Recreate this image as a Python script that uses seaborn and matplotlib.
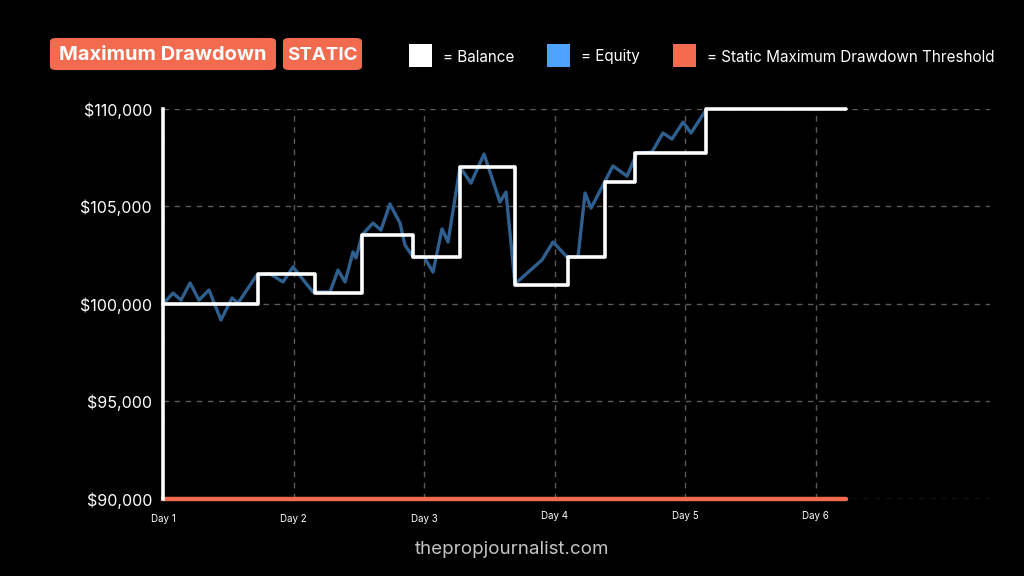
import matplotlib
matplotlib.use("Agg")
import matplotlib.pyplot as plt
from matplotlib.patches import Rectangle, FancyBboxPatch
from matplotlib.transforms import ScaledTranslation
import seaborn as sns
import pandas as pd

# ---- data (x in days since Day 1, values in USD) ----
balance_days = [0, 0.73, 1.165, 1.525, 1.916, 2.276, 2.70, 3.10, 3.39, 3.62, 4.16, 5.23]
balance_vals = [100000, 101550, 100560, 103540, 102410, 107025, 100970, 102410, 106260, 107740, 110000, 110000]

equity_days = [0, 0.077, 0.138, 0.207, 0.276, 0.352, 0.444, 0.529, 0.575, 0.72, 0.82, 0.92,
               0.996, 1.149, 1.28, 1.341, 1.395, 1.456, 1.479, 1.525, 1.609, 1.670, 1.739,
               1.816, 1.854, 1.916, 2.0, 2.069, 2.138, 2.184, 2.276, 2.36, 2.46, 2.582,
               2.628, 2.697, 2.904, 2.989, 3.096, 3.18, 3.234, 3.28, 3.448, 3.556, 3.632,
               3.747, 3.831, 3.900, 3.985, 4.046, 4.161]
equity_vals = [100000, 100560, 100200, 101080, 100200, 100720, 99180, 100310, 100050, 101490, 101540, 101130,
               101900, 100615, 100615, 101740, 101130, 102670, 102360, 103540, 104150, 103790, 105130,
               104150, 103025, 102410, 102410, 101640, 103850, 103180, 107025, 106200, 107690, 105230,
               105740, 101030, 102260, 103180, 102410, 102410, 105690, 104920, 107080, 106560, 107740,
               107790, 108770, 108460, 109330, 108770, 109950]

threshold_days = [0, 5.23]
threshold_vals = [90000, 90000]

day_ticks = [0, 1, 2, 3, 4, 5]
day_labels = ["Day 1", "Day 2", "Day 3", "Day 4", "Day 5", "Day 6"]
y_ticks = [90000, 95000, 100000, 105000, 110000]
y_labels = ["$90,000", "$95,000", "$100,000", "$105,000", "$110,000"]

# ---- colours ----
BG = "#000000"
ORANGE = "#f26b4f"
EQUITY = "#2e5f8f"
EQUITY_LEG = "#4da3ff"
GRID = "#5a5a5a"

sns.set_theme(style="dark")
plt.rcParams["font.family"] = ["Inter", "DejaVu Sans"]

fig = plt.figure(figsize=(10.24, 5.76), dpi=100, facecolor=BG)
ax = fig.add_axes([163/1024, 1-499/576, (990-163)/1024, (499-109)/576])
ax.set_facecolor(BG)

eq_df = pd.DataFrame({"day": equity_days, "value": equity_vals})
bal_df = pd.DataFrame({"day": balance_days, "value": balance_vals})
thr_df = pd.DataFrame({"day": threshold_days, "value": threshold_vals})

sns.lineplot(data=eq_df, x="day", y="value", ax=ax, color=EQUITY, linewidth=2.4,
             estimator=None, sort=False, zorder=3)
sns.lineplot(data=bal_df, x="day", y="value", ax=ax, color="white", linewidth=2.6,
             estimator=None, sort=False, drawstyle="steps-post", zorder=4, clip_on=False)
sns.lineplot(data=thr_df, x="day", y="value", ax=ax, color=ORANGE, linewidth=3.2,
             estimator=None, sort=False, zorder=5, clip_on=False)

ax.set_xlim(0, (990-163)/130.5)
ax.set_ylim(90000, 110000)
ax.set_xticks(day_ticks)
ax.set_xticklabels(day_labels)
ax.set_yticks(y_ticks)
ax.set_yticklabels(y_labels)
ax.set_xlabel("")
ax.set_ylabel("")

ax.grid(True, color=GRID, linestyle=(0, (4, 4)), linewidth=1.0)
ax.set_axisbelow(True)

for s in ["top", "right", "bottom"]:
    ax.spines[s].set_visible(False)
ax.spines["left"].set_visible(True)
ax.spines["left"].set_color("white")
ax.spines["left"].set_linewidth(2.6)
ax.spines["left"].set_zorder(6)

ax.tick_params(axis="y", colors="white", labelsize=11.5, length=0, pad=8)
ax.tick_params(axis="x", colors="white", labelsize=7, length=0, pad=11)

# Days 4-6 sit slightly higher in the reference
for i, lab in enumerate(ax.get_xticklabels()):
    if i >= 3:
        lab.set_transform(lab.get_transform() + ScaledTranslation(0, 3.5/100, fig.dpi_scale_trans))

# ---- title badges ----
def badge(x0, y0, x1, y1, text, size):
    w = (x1 - x0) / 1024
    h = (y1 - y0) / 576
    p = FancyBboxPatch((x0/1024, 1 - y1/576), w, h,
                       boxstyle="round,pad=0,rounding_size=0.006",
                       transform=fig.transFigure, facecolor=ORANGE, edgecolor="none")
    fig.patches.append(p)
    fig.text((x0 + x1) / 2 / 1024, 1 - ((y0 + y1) / 2 + 1) / 576, text, color="white",
             fontsize=size, fontweight="bold", ha="center", va="center")

badge(50, 38, 276, 70, "Maximum Drawdown", 14.5)
badge(283, 38, 362, 70, "STATIC", 13.5)

# ---- legend ----
def legend_item(x, color, text):
    r = Rectangle((x/1024, 1 - 67/576), 23/1024, 23/576, transform=fig.transFigure,
                  facecolor=color, edgecolor="none")
    fig.patches.append(r)
    fig.text((x + 34)/1024, 1 - 57/576, text, color="white", fontsize=11,
             ha="left", va="center")

legend_item(409, "white", "= Balance")
legend_item(547, EQUITY_LEG, "= Equity")
legend_item(673, ORANGE, "= Static Maximum Drawdown Threshold")

# ---- footer ----
fig.text(0.5, 1 - 549/576, "thepropjournalist.com", color="#c4c4c4", fontsize=13.5,
         ha="center", va="center")

fig.savefig("out.png", dpi=100, facecolor=BG)
